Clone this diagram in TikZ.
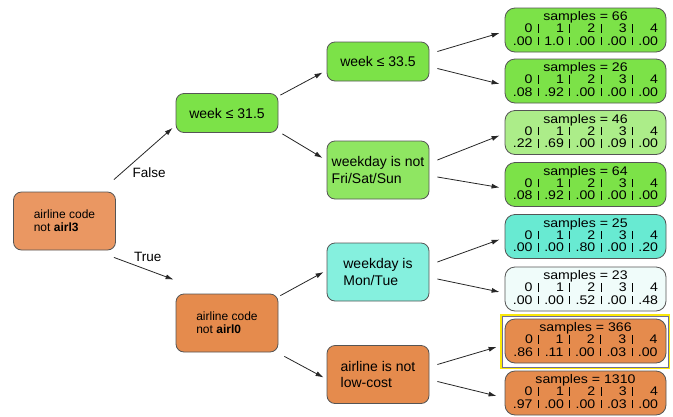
\documentclass[tikz,border=0pt]{standalone}
\usepackage{fontspec}
\setmainfont{Liberation Sans}
\usetikzlibrary{arrows.meta,positioning}

\definecolor{edgegray}{RGB}{85,85,85}
\definecolor{rootorange}{RGB}{234,151,98}
\definecolor{darkorange}{RGB}{229,139,77}
\definecolor{leafgreen}{RGB}{124,226,72}
\definecolor{midgreen}{RGB}{143,230,98}
\definecolor{palegreen}{RGB}{172,237,137}
\definecolor{nodecyan}{RGB}{133,240,222}
\definecolor{leafcyan}{RGB}{104,234,210}
\definecolor{paleleaf}{RGB}{240,252,250}
\definecolor{selyellow}{RGB}{250,232,10}
\definecolor{selslate}{RGB}{110,110,150}

\newcommand{\colsep}{\hspace{4.8pt}\rule{0.8pt}{8.3pt}\hspace{4.8pt}}
\newcommand{\leafvals}[6]{\scalebox{1.13}[1]{\begin{tabular}{@{}r@{\colsep}r@{\colsep}r@{\colsep}r@{\colsep}r@{}}
\multicolumn{5}{@{}c@{}}{samples = #1}\\
0&1&2&3&4\\
#2&#3&#4&#5&#6\end{tabular}}}

\begin{document}
\begin{tikzpicture}
		[x=1pt,y=-1pt,
		block/.style ={rectangle, draw=edgegray, line width=0.8pt, rounded corners=8pt, minimum width=102pt, minimum height=39pt, align=left, inner sep=2pt, font=\fontsize{14}{16.7}\selectfont},
		tall/.style ={block, minimum height=58pt},
		split/.style ={tall, font=\fontsize{12}{13.3}\selectfont},
		leaf/.style ={rectangle, draw=edgegray, line width=0.8pt, rounded corners=10pt, minimum width=161pt, minimum height=44pt, inner sep=1pt, font=\fontsize{12.5}{11.6}\selectfont},
		line/.style ={draw=black!85, line width=0.8pt, -{Latex[length=8pt,width=5pt]}},
		lbl/.style ={inner sep=2pt, font=\fontsize{13.5}{16}\selectfont},
		selbox/.style ={draw=selyellow, line width=1.8pt},
		]
		\useasboundingbox (0,0) rectangle (673,416);

		\draw (64.5,221) node[split, fill=rootorange] (root) {airline code\\not \textbf{airl3}};
		\draw (227,113) node[block, fill=leafgreen] (W1) {week ≤ 31.5};
		\draw (227,323) node[split, fill=darkorange] (A1) {airline code\\not \textbf{airl0}};
		\draw (378,61.5) node[block, fill=leafgreen] (W2) {week ≤ 33.5};
		\draw (378,170) node[tall, fill=midgreen] (D1) {weekday is not\\Fri/Sat/Sun};
		\draw (378,272) node[tall, fill=nodecyan] (D2) {weekday is\\Mon/Tue};
		\draw (378,374.5) node[tall, fill=darkorange] (A2) {airline is not\\low-cost};

		\draw (585.5,30) node[leaf, fill=leafgreen] (L1) {\leafvals{66}{.00}{1.0}{.00}{.00}{.00}};
		\draw (585.5,81) node[leaf, fill=leafgreen] (L2) {\leafvals{26}{.08}{.92}{.00}{.00}{.00}};
		\draw (585.5,132.5) node[leaf, fill=palegreen] (L3) {\leafvals{46}{.22}{.69}{.00}{.09}{.00}};
		\draw (585.5,184.5) node[leaf, fill=leafgreen] (L4) {\leafvals{64}{.08}{.92}{.00}{.00}{.00}};
		\draw (585.5,236.5) node[leaf, fill=leafcyan] (L5) {\leafvals{25}{.00}{.00}{.80}{.00}{.20}};
		\draw (585.5,289) node[leaf, fill=paleleaf] (L6) {\leafvals{23}{.00}{.00}{.52}{.00}{.48}};
		\draw (585.5,341) node[leaf, fill=darkorange] (L7) {\leafvals{366}{.86}{.11}{.00}{.03}{.00}};
		\draw (585.5,393) node[leaf, fill=darkorange] (L8) {\leafvals{1310}{.97}{.00}{.00}{.03}{.00}};

		% highlight round the selected leaf
		\draw[selbox] ([shift={(-4,-4)}]L7.north west) rectangle ([shift={(3,5)}]L7.south east);
		\draw[selslate, line width=0.6pt] ([shift={(-2,-2)}]L7.north west) rectangle ([shift={(1.5,3.5)}]L7.south east);

		\path
		([shift={(-2,-12)}]root.north east) edge[line] node[pos=0.28, below right, lbl] {False} ([shift={(-3,-5)}]W1.south west)
		([shift={(-2,7)}]root.south east) edge[line] node[pos=0.3, above right, lbl] {True} ([shift={(-2,-14)}]A1.north west)
		([shift={(2,2)}]W1.north east) edge[line] ([shift={(-4,11)}]W2.west)
		([shift={(4,1)}]W1.south east) edge[line] ([shift={(-4,-12)}]D1.west)
		([shift={(2,2)}]A1.north east) edge[line] ([shift={(-3,0)}]D2.west)
		([shift={(6,4)}]A1.south east) edge[line] ([shift={(-3,3)}]A2.west);

		\path
		([shift={(8,-10)}]W2.east) edge[line] ([shift={(-5,3)}]L1.west)
		([shift={(8,7)}]W2.east) edge[line] ([shift={(-5,3)}]L2.west)
		([shift={(8,-10)}]D1.east) edge[line] ([shift={(-5,3)}]L3.west)
		([shift={(8,7)}]D1.east) edge[line] ([shift={(-5,3)}]L4.west)
		([shift={(8,-10)}]D2.east) edge[line] ([shift={(-5,3)}]L5.west)
		([shift={(8,7)}]D2.east) edge[line] ([shift={(-5,3)}]L6.west)
		([shift={(8,-10)}]A2.east) edge[line] ([shift={(-8,6)}]L7.west)
		([shift={(8,7)}]A2.east) edge[line] ([shift={(-8,3)}]L8.west);
	\end{tikzpicture}
\end{document}
